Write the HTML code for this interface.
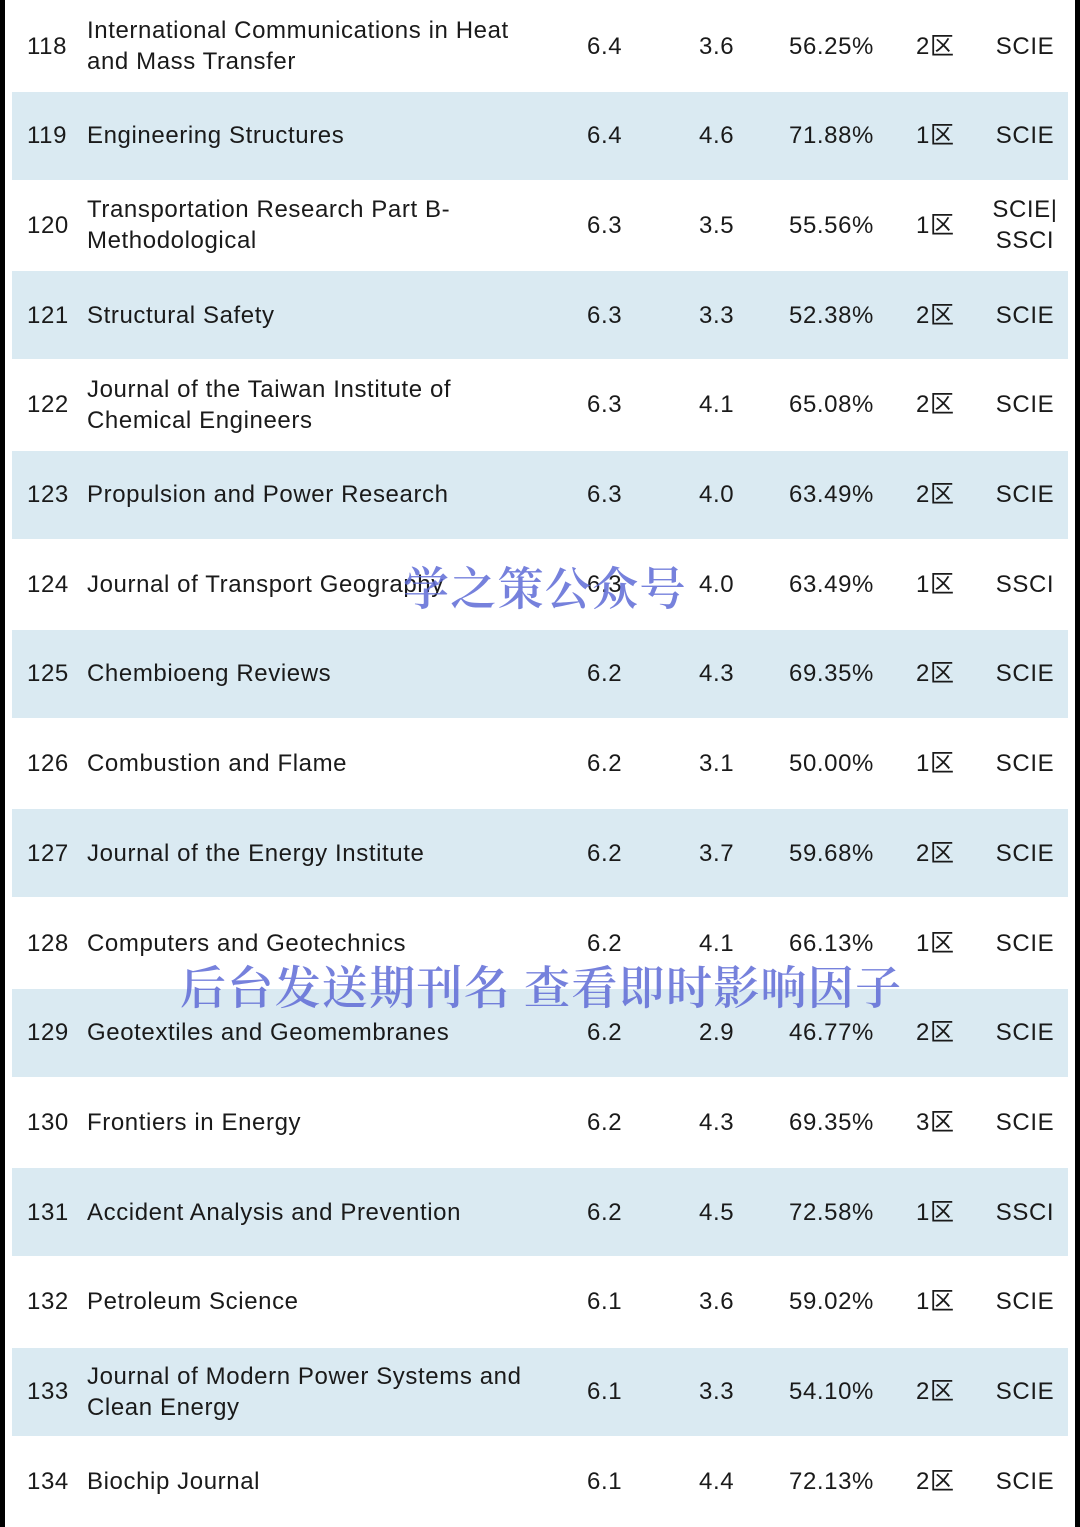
<!DOCTYPE html>
<html><head><meta charset="utf-8"><style>
body{margin:0;width:1080px;height:1527px;background:#fff;position:relative;overflow:hidden;font-family:"Liberation Sans",sans-serif;color:#1a1a1a}
.lb{position:absolute;left:0;top:0;width:5px;height:1527px;background:#000}
.rb{position:absolute;left:1075px;top:0;width:5px;height:1527px;background:#000}
.sh{position:absolute;left:12px;width:1056px;height:88px;background:#daeaf2}
.c{position:absolute;font-size:24px;line-height:31px;white-space:nowrap;letter-spacing:0.6px}
.wm{position:absolute;font-family:"Noto Serif CJK SC",serif;color:#5f6cd6;opacity:.85;font-size:46px;line-height:50px;white-space:nowrap;letter-spacing:1.3px;font-weight:600}
</style></head><body>
<div class="lb"></div><div class="rb"></div>
<div id="t"></div>
<script>
const rows=[
["118","International Communications in Heat<br>and Mass Transfer","6.4","3.6","56.25%","2区","SCIE"],
["119","Engineering Structures","6.4","4.6","71.88%","1区","SCIE"],
["120","Transportation Research Part B-<br>Methodological","6.3","3.5","55.56%","1区","SCIE|<br>SSCI"],
["121","Structural Safety","6.3","3.3","52.38%","2区","SCIE"],
["122","Journal of the Taiwan Institute of<br>Chemical Engineers","6.3","4.1","65.08%","2区","SCIE"],
["123","Propulsion and Power Research","6.3","4.0","63.49%","2区","SCIE"],
["124","Journal of Transport Geography","6.3","4.0","63.49%","1区","SSCI"],
["125","Chembioeng Reviews","6.2","4.3","69.35%","2区","SCIE"],
["126","Combustion and Flame","6.2","3.1","50.00%","1区","SCIE"],
["127","Journal of the Energy Institute","6.2","3.7","59.68%","2区","SCIE"],
["128","Computers and Geotechnics","6.2","4.1","66.13%","1区","SCIE"],
["129","Geotextiles and Geomembranes","6.2","2.9","46.77%","2区","SCIE"],
["130","Frontiers in Energy","6.2","4.3","69.35%","3区","SCIE"],
["131","Accident Analysis and Prevention","6.2","4.5","72.58%","1区","SSCI"],
["132","Petroleum Science","6.1","3.6","59.02%","1区","SCIE"],
["133","Journal of Modern Power Systems and<br>Clean Energy","6.1","3.3","54.10%","2区","SCIE"],
["134","Biochip Journal","6.1","4.4","72.13%","2区","SCIE"]];
let h="";
rows.forEach((r,i)=>{const cy=46+i*89.7;
if(i%2)h+=`<div class="sh" style="top:${cy-44}px"></div>`;
const two=r[1].includes("<br>");const t2=two?cy-31:cy-15.5;
h+=`<div class="c" style="left:27px;top:${cy-15.5}px">${r[0]}</div>`;
h+=`<div class="c" style="left:87px;top:${t2}px">${r[1]}</div>`;
h+=`<div class="c" style="left:587px;top:${cy-15.5}px">${r[2]}</div>`;
h+=`<div class="c" style="left:699px;top:${cy-15.5}px">${r[3]}</div>`;
h+=`<div class="c" style="left:789px;top:${cy-15.5}px">${r[4]}</div>`;
h+=`<div class="c" style="left:916px;top:${cy-15.5}px;font-family:'Liberation Sans','Noto Sans CJK SC',sans-serif">${r[5]}</div>`;
const two6=r[6].includes("<br>");
h+=`<div class="c" style="left:985px;width:80px;text-align:center;top:${two6?cy-31:cy-15.5}px">${r[6]}</div>`;
});
document.getElementById("t").innerHTML=h;
</script>
<div class="wm" style="left:403px;top:561px">学之策公众号</div>
<div class="wm" style="left:180px;top:960px">后台发送期刊名 查看即时影响因子</div>
</body></html>
